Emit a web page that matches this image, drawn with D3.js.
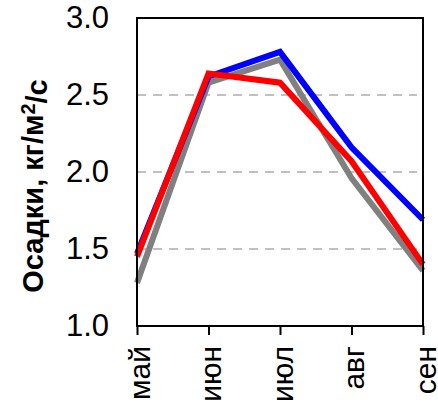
<!DOCTYPE html>
<html>
<head>
<meta charset="utf-8">
<script src="https://cdn.jsdelivr.net/npm/d3@7"></script>
<style>
  body { margin: 0; background: #fff; }
  text { font-family: "Liberation Sans", Arial, sans-serif; }
</style>
</head>
<body>
<div id="chart"></div>
<script>
// Data
var months = ["май", "июн", "июл", "авг", "сен"];
var grayValues = [1.28, 2.58, 2.73, 1.96, 1.36];
var blueValues = [1.47, 2.62, 2.78, 2.16, 1.69];
var redValues = [1.45, 2.64, 2.58, 2.07, 1.40];
var yTicks = [1.0, 1.5, 2.0, 2.5, 3.0];

var svgWidth = 438;
var svgHeight = 408;
var margin = { top: 18, right: 15, bottom: 82, left: 137 };
var width = svgWidth - margin.left - margin.right;
var height = svgHeight - margin.top - margin.bottom;

var svg = d3.select("#chart").append("svg")
    .attr("width", svgWidth)
    .attr("height", svgHeight);

var g = svg.append("g")
    .attr("transform", `translate(${margin.left}, ${margin.top})`);

var x = d3.scalePoint().domain(months).range([0, width]).padding(0);
var y = d3.scaleLinear().domain([1, 3]).range([height, 0]);

// dashed gridlines
g.selectAll(".grid")
    .data([1.5, 2.0, 2.5])
    .enter().append("line")
    .attr("x1", 0)
    .attr("x2", width - 6)
    .attr("y1", d => y(d))
    .attr("y2", d => y(d))
    .attr("stroke", "#c0c0c0")
    .attr("stroke-width", 2)
    .attr("stroke-dasharray", "9,7");

var line = d3.line()
    .x((d, i) => x(months[i]))
    .y(d => y(d));

var series = [
  { values: grayValues, color: "#808080" },
  { values: blueValues, color: "#0000ff" },
  { values: redValues, color: "#ff0000" }
];

g.selectAll(".series")
    .data(series)
    .enter().append("path")
    .attr("d", d => line(d.values))
    .attr("fill", "none")
    .attr("stroke", d => d.color)
    .attr("stroke-width", 6)
    .attr("stroke-linejoin", "miter");

// frame
g.append("rect")
    .attr("width", width)
    .attr("height", height)
    .attr("fill", "none")
    .attr("stroke", "#000")
    .attr("stroke-width", 2);

// x axis
var xAxis = g.append("g")
    .attr("transform", `translate(0, ${height})`)
    .call(d3.axisBottom(x).tickSize(9).tickPadding(10));
xAxis.select(".domain").remove();
xAxis.selectAll("line").attr("stroke", "#000").attr("stroke-width", 2);
xAxis.selectAll("text")
    .attr("transform", "rotate(-90)")
    .attr("text-anchor", "end")
    .attr("x", -20)
    .attr("y", 0)
    .attr("dy", "0.4em")
    .attr("fill", "#000")
    .style("font-size", "30px")
    .style("font-family", "Liberation Sans, Arial, sans-serif");

// y axis
var yAxis = g.append("g")
    .call(d3.axisLeft(y).tickValues(yTicks).tickFormat(d3.format(".1f")).tickSize(0).tickPadding(28));
yAxis.select(".domain").remove();
yAxis.selectAll("text")
    .attr("fill", "#000")
    .style("font-size", "31px")
    .style("font-family", "Liberation Sans, Arial, sans-serif");

// y label
var yLabel = g.append("text")
    .attr("transform", `translate(-104, ${height / 2 + 14}) rotate(-90)`)
    .attr("text-anchor", "middle")
    .attr("dy", "0.35em")
    .style("font-size", "29px")
    .style("font-weight", "bold");
yLabel.append("tspan").text("Осадки, кг/м");
yLabel.append("tspan").attr("dy", "-0.4em").style("font-size", "20px").text("2");
yLabel.append("tspan").attr("dy", "0.4em").text("/с");
</script>
</body>
</html>
